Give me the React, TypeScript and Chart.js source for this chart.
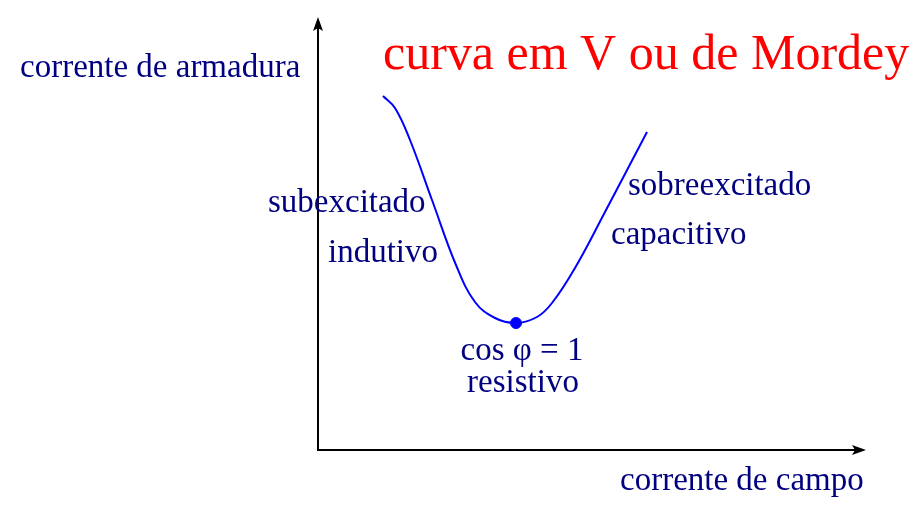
import React, { useEffect, useRef } from "react";
import { Chart, registerables } from "chart.js";

Chart.register(...registerables);

// Curve: x = field current, y = armature current (arbitrary units)
const fieldCurrent = [65, 77, 92, 114, 138, 157, 177, 198, 219, 234, 257, 287, 329];
const armatureCurrent = [354, 342, 310, 250, 185, 148, 132, 127, 133, 147, 182, 238, 318];
const unityPoint = { x: 198, y: 127 };

const titleText = "curva em V ou de Mordey";
const yAxisLabel = "corrente de armadura";
const xAxisLabel = "corrente de campo";
const leftLabels = ["subexcitado", "indutivo"];
const rightLabels = ["sobreexcitado", "capacitivo"];
const bottomLabels = ["cos φ = 1", "resistivo"];

const NAVY = "#000080";
const FONT = "\"Liberation Serif\", \"Times New Roman\", serif";

const decorPlugin = {
  id: "decor",
  beforeDatasetsDraw(chart: any) {
    const { ctx, chartArea } = chart;
    const { left, right, top, bottom } = chartArea;
    ctx.save();
    ctx.strokeStyle = "#000";
    ctx.fillStyle = "#000";
    ctx.lineWidth = 2;
    // vertical axis
    ctx.beginPath();
    ctx.moveTo(left, bottom + 1);
    ctx.lineTo(left, top + 8);
    ctx.stroke();
    ctx.beginPath();
    ctx.moveTo(left, top);
    ctx.lineTo(left - 5, top + 14);
    ctx.lineTo(left, top + 11);
    ctx.lineTo(left + 5, top + 14);
    ctx.closePath();
    ctx.fill();
    // horizontal axis
    ctx.beginPath();
    ctx.moveTo(left - 1, bottom);
    ctx.lineTo(right - 8, bottom);
    ctx.stroke();
    ctx.beginPath();
    ctx.moveTo(right, bottom);
    ctx.lineTo(right - 14, bottom - 5);
    ctx.lineTo(right - 11, bottom);
    ctx.lineTo(right - 14, bottom + 5);
    ctx.closePath();
    ctx.fill();

    // texts
    ctx.textBaseline = "alphabetic";
    ctx.fillStyle = "#ff0000";
    ctx.font = `50px ${FONT}`;
    ctx.textAlign = "left";
    ctx.fillText(titleText, 383, 69);

    ctx.fillStyle = NAVY;
    ctx.font = `33px ${FONT}`;
    ctx.fillText(yAxisLabel, 20, 77);
    ctx.fillText(xAxisLabel, 620, 490);
    ctx.fillText(leftLabels[0], 268, 212);
    ctx.fillText(leftLabels[1], 328, 262);
    ctx.fillText(rightLabels[0], 628, 195);
    ctx.fillText(rightLabels[1], 611, 244);
    ctx.textAlign = "center";
    ctx.fillText(bottomLabels[0], 522, 360);
    ctx.fillText(bottomLabels[1], 523, 392);
    ctx.restore();
  },
};

export default function App() {
  const ref = useRef<HTMLCanvasElement>(null);
  useEffect(() => {
    if (!ref.current) return;
    const chart = new Chart(ref.current, {
      type: "line",
      data: {
        datasets: [
          {
            data: fieldCurrent.map((x, i) => ({ x, y: armatureCurrent[i] })),
            borderColor: "#0000ff",
            borderWidth: 2,
            pointRadius: 0,
            tension: 0.4,
            fill: false,
          },
          {
            data: [unityPoint],
            borderColor: "#0000ff",
            backgroundColor: "#0000ff",
            pointRadius: 5.5,
            showLine: false,
          },
        ],
      },
      options: {
        animation: false,
        responsive: true,
        maintainAspectRatio: false,
        layout: { padding: { left: 318, right: 55, top: 17, bottom: 68 } },
        plugins: { legend: { display: false }, tooltip: { enabled: false }, title: { display: false } },
        scales: {
          x: { type: "linear", display: false, min: 0, max: 548 },
          y: { type: "linear", display: false, min: 0, max: 433 },
        },
      },
      plugins: [decorPlugin],
    } as any);
    return () => chart.destroy();
  }, []);
  return (
    <div style={{ position: "fixed", left: 0, top: 0, width: 921, height: 518, background: "#fff" }}>
      <canvas ref={ref} />
    </div>
  );
}
